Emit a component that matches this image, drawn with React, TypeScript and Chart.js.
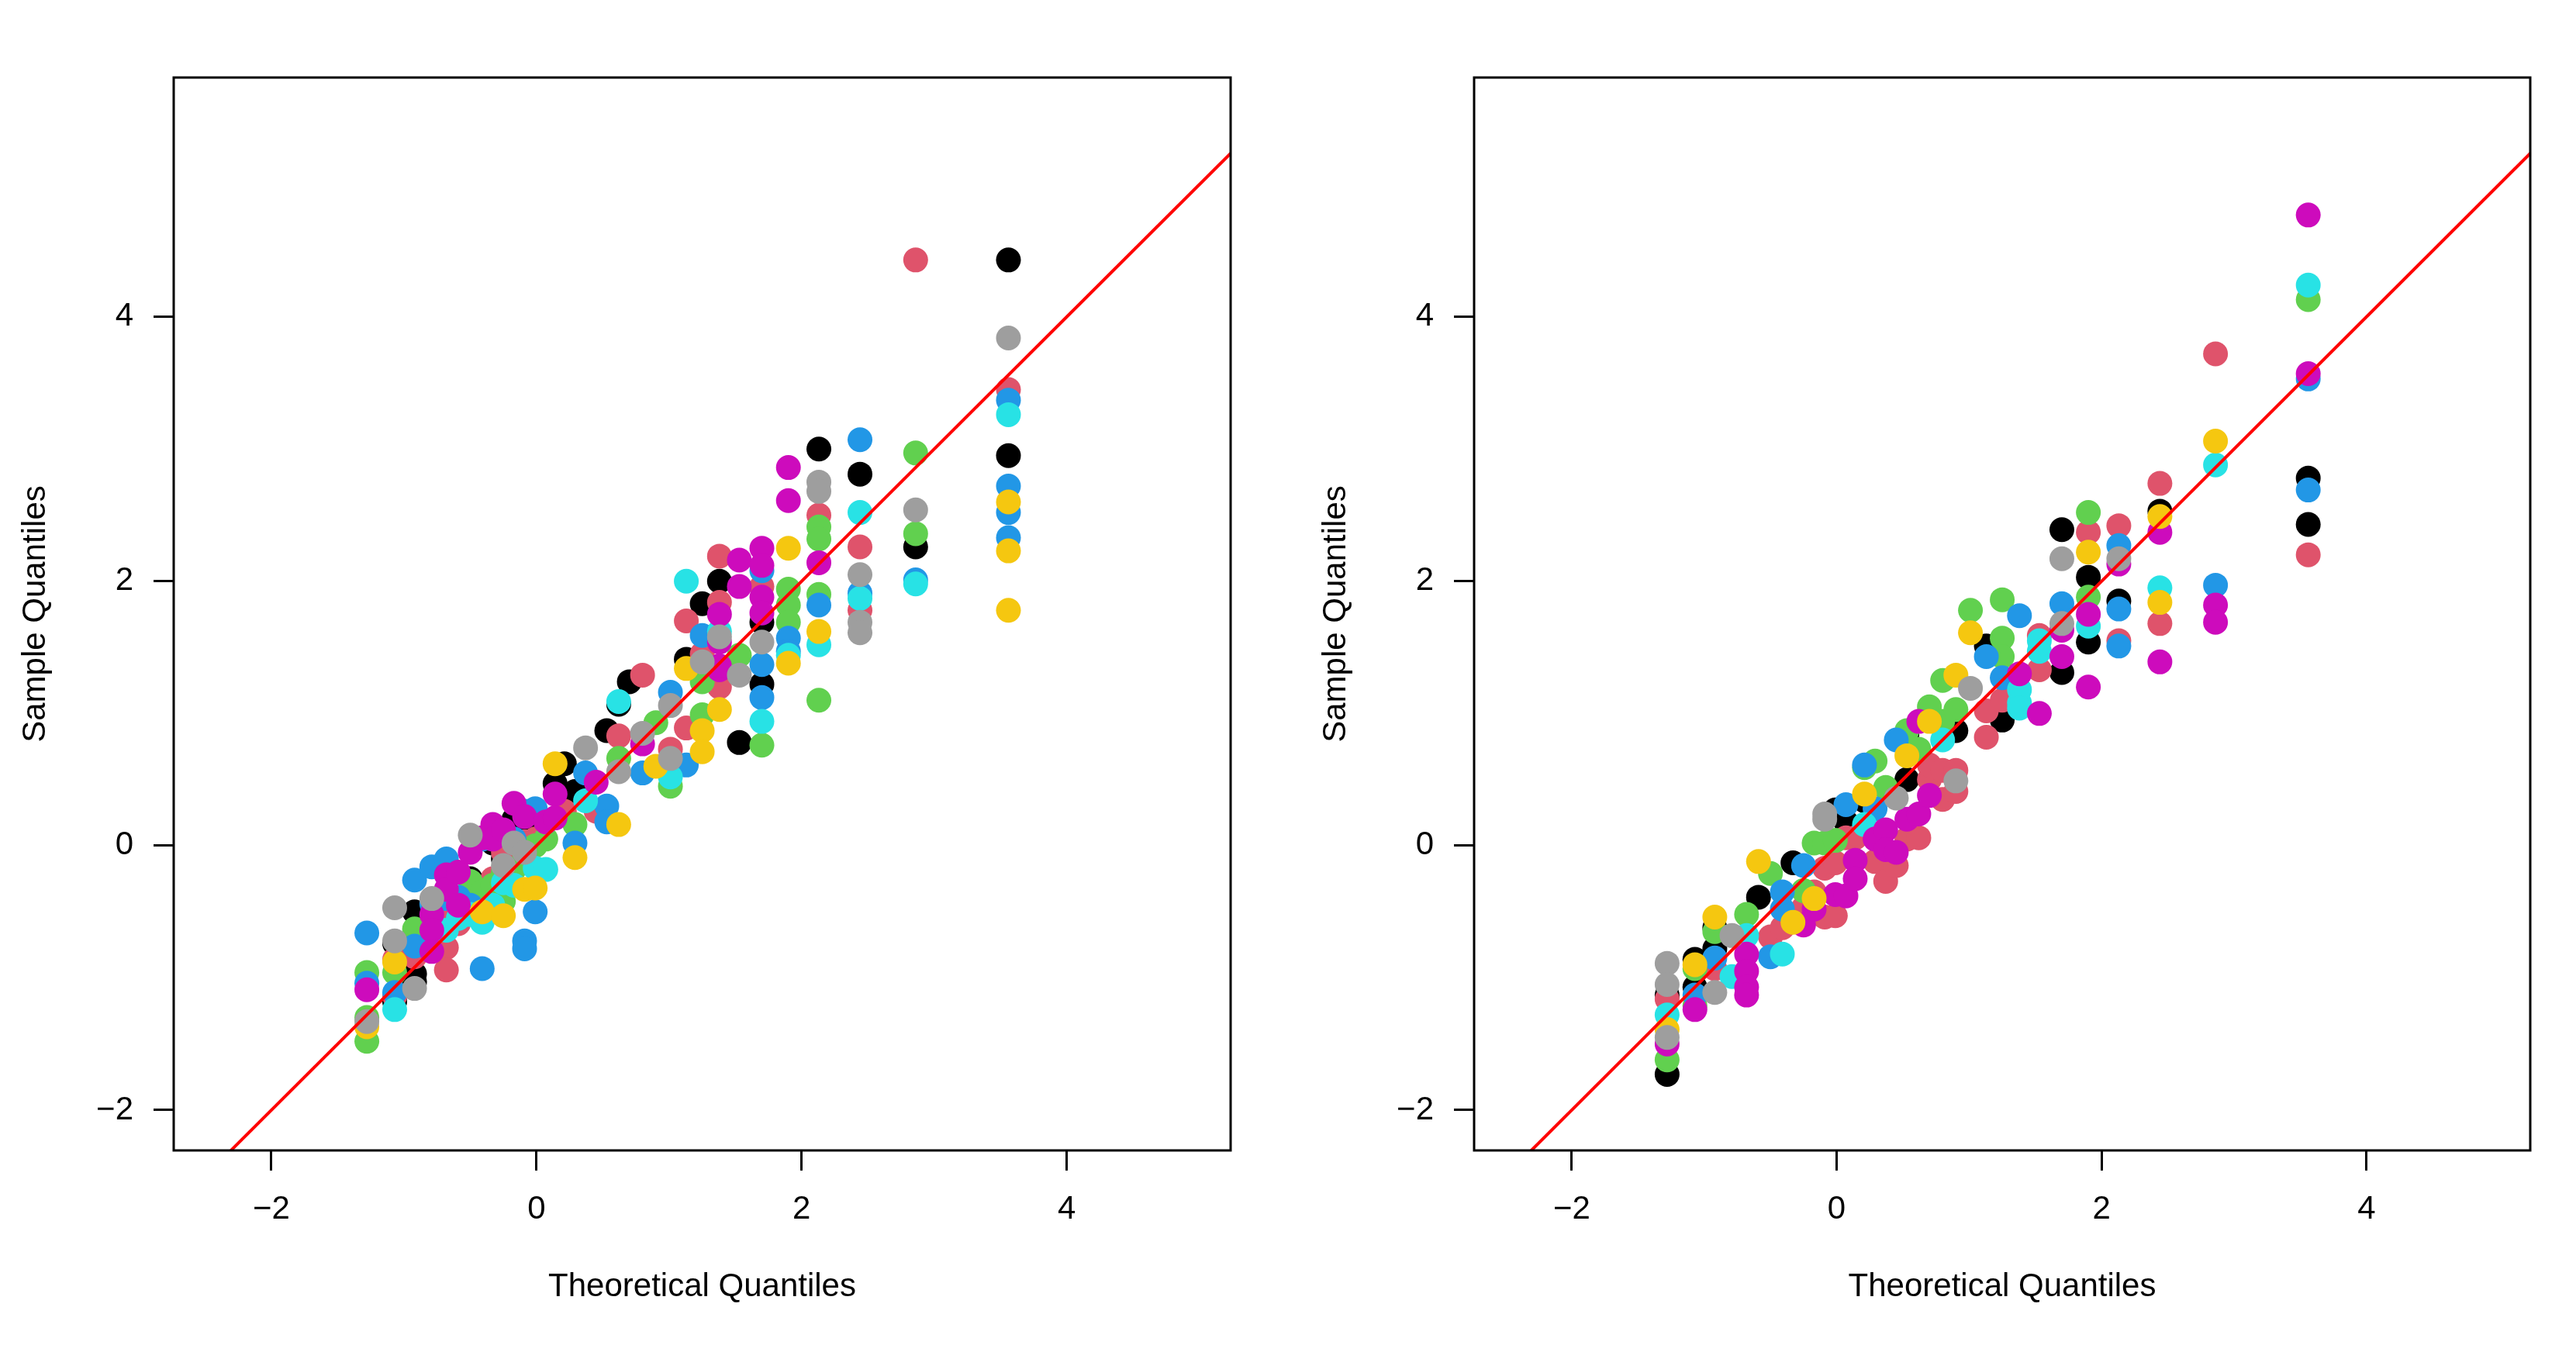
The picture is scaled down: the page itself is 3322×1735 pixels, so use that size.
import React, { useEffect, useRef } from 'react';
import { Chart, registerables } from 'chart.js';

Chart.register(...registerables);

// Theoretical quantile positions (shared columns)
const quantiles = [
  -1.28, -1.07, -0.92, -0.79, -0.68, -0.59, -0.5, -0.41, -0.33, -0.25, -0.17, -0.09, -0.01,
  0.07, 0.14, 0.21, 0.29, 0.37, 0.45, 0.53, 0.62, 0.7, 0.8, 0.9, 1.01, 1.13, 1.25, 1.38,
  1.53, 1.7, 1.9, 2.13, 2.44, 2.86, 3.56,
];

// R palette
const palette = ['#000000', '#DF536B', '#61D04F', '#2297E6', '#28E2E5', '#CD0BBC', '#F5C710', '#9E9E9E'];

// Left panel: [quantile column index, sample quantile]
const lBlack = [[1,-0.74],[1,-1.18],[2,-0.5],[2,-0.97],[2,-1.03],[6,-0.25],[8,0.02],[9,-0.1],[10,0.2],[11,0.12],[12,0.18],[14,0.47],[15,0.62],[16,0.41],[19,0.87],[20,1.07],[21,1.24],[24,0.62],[25,1.41],[26,1.83],[27,2.0],[28,0.78],[29,1.69],[29,1.22],[31,3.0],[32,2.81],[33,2.26],[34,4.43],[34,2.95]];
const lRed = [[1,-0.86],[1,-1.14],[2,-0.84],[3,-0.78],[4,-0.58],[4,-0.77],[4,-0.94],[5,-0.59],[6,-0.36],[7,-0.4],[8,-0.25],[9,-0.05],[10,-0.08],[11,0.03],[12,0.05],[15,0.26],[18,0.26],[20,0.83],[22,1.29],[24,0.73],[25,0.89],[25,1.7],[26,1.45],[27,2.19],[27,1.84],[27,1.2],[29,1.96],[31,2.5],[32,2.26],[32,1.78],[33,4.43],[34,3.45]];
const lGreen = [[0,-0.96],[0,-1.3],[0,-1.48],[1,-0.96],[2,-0.63],[6,-0.27],[7,-0.35],[8,-0.3],[9,-0.2],[9,-0.42],[10,-0.18],[11,-0.07],[12,0.0],[13,0.05],[16,0.16],[20,0.66],[23,0.93],[24,0.45],[26,1.24],[26,0.99],[28,1.44],[29,0.76],[30,1.94],[30,1.82],[30,1.69],[31,2.41],[31,2.32],[31,1.9],[31,1.1],[33,2.97],[33,2.36]];
const lBlue = [[0,-0.66],[0,-1.04],[1,-1.11],[2,-0.26],[2,-0.76],[3,-0.16],[3,-0.44],[4,-0.1],[4,-0.4],[5,-0.39],[6,-0.45],[7,-0.93],[7,0.05],[10,0.05],[11,-0.72],[11,-0.78],[11,0.26],[12,-0.5],[12,0.28],[16,0.02],[17,0.55],[19,0.3],[19,0.18],[22,0.55],[24,1.16],[25,0.61],[26,1.59],[29,2.08],[29,1.37],[29,1.12],[30,1.57],[30,1.47],[31,1.82],[32,3.07],[32,1.91],[33,2.01],[34,3.37],[34,2.72],[34,2.52],[34,2.33]];
const lCyan = [[1,-1.24],[4,-0.64],[5,-0.55],[6,-0.52],[7,-0.58],[8,-0.45],[9,-0.28],[10,-0.3],[12,-0.17],[13,-0.18],[17,0.34],[20,1.09],[24,0.52],[25,2.0],[27,1.62],[29,0.94],[30,1.44],[31,1.52],[32,2.52],[32,1.87],[33,1.98],[34,3.26]];
const lMagenta = [[0,-1.09],[3,-0.52],[3,-0.64],[3,-0.8],[4,-0.22],[4,-0.33],[5,-0.2],[5,-0.45],[6,-0.05],[7,0.06],[8,0.16],[8,0.05],[9,0.12],[10,0.32],[11,0.22],[13,0.18],[14,0.39],[14,0.21],[18,0.48],[22,0.77],[27,1.75],[27,1.54],[27,1.33],[27,1.36],[28,2.16],[28,1.96],[29,2.25],[29,2.12],[29,1.88],[29,1.76],[30,2.86],[30,2.61],[31,2.14]];
const lYellow = [[0,-1.37],[1,-0.88],[7,-0.5],[9,-0.53],[11,-0.33],[12,-0.32],[14,0.62],[16,-0.09],[20,0.16],[23,0.6],[25,1.34],[26,0.87],[26,0.71],[27,1.03],[30,2.25],[30,1.38],[31,1.62],[34,2.6],[34,2.23],[34,1.78]];
const lGray = [[0,-1.33],[1,-0.47],[1,-0.72],[2,-1.08],[3,-0.4],[6,0.08],[9,-0.15],[10,0.02],[11,-0.05],[17,0.74],[20,0.56],[22,0.85],[24,1.06],[24,0.66],[26,1.39],[27,1.58],[28,1.29],[29,1.54],[31,2.75],[31,2.68],[32,2.05],[32,1.69],[32,1.61],[33,2.54],[34,3.84]];

// Right panel
const rBlack = [[0,-1.73],[0,-1.13],[1,-0.86],[1,-1.07],[2,-0.62],[2,-0.78],[5,-0.39],[8,-0.13],[12,0.27],[13,0.18],[15,0.34],[19,0.5],[19,0.84],[23,0.87],[25,1.51],[26,0.95],[29,2.39],[29,1.31],[30,2.03],[30,1.54],[31,1.85],[32,2.53],[34,2.78],[34,2.43]];
const rRed = [[0,-1.16],[2,-0.93],[6,-0.69],[7,-0.62],[9,-0.47],[10,-0.35],[11,-0.17],[11,-0.54],[12,-0.13],[12,-0.53],[13,0.06],[14,0.06],[16,-0.12],[17,-0.27],[18,-0.15],[19,0.05],[20,0.06],[21,0.5],[21,0.61],[22,0.57],[22,0.35],[23,0.57],[23,0.41],[25,1.02],[25,0.82],[26,1.1],[28,1.59],[28,1.33],[30,2.37],[31,2.42],[31,1.55],[32,2.74],[32,1.68],[33,3.72],[34,2.2]];
const rGreen = [[0,-1.62],[1,-0.93],[1,-1.21],[2,-0.65],[4,-0.52],[6,-0.21],[9,-0.34],[10,0.02],[11,0.02],[12,0.04],[15,0.59],[16,0.64],[17,0.44],[19,0.87],[20,0.73],[21,1.05],[22,0.94],[22,1.25],[23,1.03],[24,1.78],[26,1.86],[26,1.57],[26,1.43],[30,2.52],[30,1.88],[34,4.13]];
const rBlue = [[1,-1.13],[2,-0.85],[6,-0.84],[7,-0.48],[7,-0.35],[9,-0.15],[13,0.31],[15,0.61],[16,0.28],[18,0.8],[25,1.43],[26,1.27],[27,1.74],[29,1.83],[31,2.27],[31,1.79],[31,1.51],[33,1.97],[34,3.53],[34,2.69]];
const rCyan = [[0,-1.28],[3,-0.99],[4,-0.68],[7,-0.82],[15,0.16],[22,0.8],[27,1.08],[27,1.18],[27,1.04],[28,1.55],[28,1.47],[30,1.66],[32,1.95],[33,2.88],[34,4.24]];
const rMagenta = [[0,-1.5],[1,-1.24],[4,-0.82],[4,-0.95],[4,-1.07],[4,-1.13],[9,-0.6],[10,-0.48],[12,-0.37],[13,-0.38],[14,-0.11],[14,-0.25],[16,0.05],[17,0.12],[17,-0.03],[18,-0.05],[19,0.2],[20,0.24],[21,0.38],[20,0.94],[27,1.3],[28,1.0],[29,1.63],[29,1.43],[30,1.75],[30,1.2],[31,2.13],[32,2.37],[32,1.39],[33,1.82],[33,1.69],[34,4.77],[34,3.57]];
const rYellow = [[0,-1.39],[1,-0.9],[2,-0.54],[5,-0.12],[8,-0.58],[10,-0.4],[15,0.39],[19,0.68],[21,0.94],[23,1.29],[24,1.61],[30,2.22],[32,2.49],[32,1.84],[33,3.06]];
const rGray = [[0,-0.89],[0,-1.05],[0,-1.45],[2,-1.11],[3,-0.68],[11,0.24],[11,0.2],[18,0.36],[23,0.49],[24,1.19],[29,2.17],[29,1.68],[31,2.17]];

const leftSeries = [lBlack, lRed, lGreen, lBlue, lCyan, lMagenta, lYellow, lGray];
const rightSeries = [rBlack, rRed, rGreen, rBlue, rCyan, rMagenta, rYellow, rGray];

// Reference line y = x
const refLine = [[-3, -3], [6, 6]];

const xTicks = [-2, 0, 2, 4];
const yTicks = [-2, 0, 2, 4];
const xLimits = [-2.737, 5.236];
const yLimits = [-2.305, 5.81];

const FONT = '"Liberation Sans", Arial, Helvetica, sans-serif';
const CW = 1661;
const CH = 1735;

const boxPlugin = {
  id: 'rbox',
  afterDraw(chart: any) {
    const { ctx, chartArea: a } = chart;
    ctx.save();
    ctx.strokeStyle = '#000';
    ctx.lineWidth = 3;
    ctx.strokeRect(a.left, a.top, a.right - a.left, a.bottom - a.top);
    ctx.restore();
  },
};

const fmt = (v: number) => (v < 0 ? '\u2212' + Math.abs(v) : String(v));

function Panel({ series, left, padLeft, padRight }: { series: number[][][]; left: number; padLeft: number; padRight: number }) {
  const ref = useRef<HTMLCanvasElement | null>(null);
  useEffect(() => {
    if (!ref.current) return;
    const datasets: any[] = series.map((pts, i) => ({
      type: 'scatter',
      data: pts.map(([q, y]) => ({ x: quantiles[q], y })),
      backgroundColor: palette[i],
      borderColor: palette[i],
      borderWidth: 0,
      pointRadius: 16,
      pointHoverRadius: 16,
      order: 20 - i,
    }));
    datasets.push({
      type: 'line',
      data: refLine.map(([x, y]) => ({ x, y })),
      borderColor: '#FF0000',
      borderWidth: 4,
      pointRadius: 0,
      fill: false,
      tension: 0,
      order: 0,
    });
    const chart = new Chart(ref.current, {
      type: 'scatter',
      data: { datasets },
      plugins: [boxPlugin],
      options: {
        animation: false,
        responsive: false,
        maintainAspectRatio: false,
        devicePixelRatio: 1,
        events: [],
        layout: { padding: { left: padLeft, right: padRight, top: 100, bottom: 0 } },
        plugins: { legend: { display: false }, tooltip: { enabled: false } },
        scales: {
          x: {
            type: 'linear',
            min: xLimits[0],
            max: xLimits[1],
            afterBuildTicks: (s: any) => { s.ticks = xTicks.map((v) => ({ value: v })); },
            afterFit: (s: any) => { s.height = 251; },
            border: { display: false },
            grid: { display: true, drawOnChartArea: false, drawTicks: true, tickLength: 26, color: '#000', lineWidth: 3 },
            ticks: { color: '#000', padding: 25, maxRotation: 0, autoSkip: false, font: { family: FONT, size: 42, lineHeight: 1.2 }, callback: (v: any) => fmt(Number(v)) },
            title: { display: true, text: 'Theoretical Quantiles', color: '#000', font: { family: FONT, size: 42, lineHeight: 1.2 }, padding: { top: 0, bottom: 49 } },
          },
          y: {
            type: 'linear',
            min: yLimits[0],
            max: yLimits[1],
            afterBuildTicks: (s: any) => { s.ticks = yTicks.map((v) => ({ value: v })); },
            afterFit: (s: any) => { s.width = 224; },
            border: { display: false },
            grid: { display: true, drawOnChartArea: false, drawTicks: true, tickLength: 26, color: '#000', lineWidth: 3 },
            ticks: { color: '#000', padding: 26, autoSkip: false, font: { family: FONT, size: 42, lineHeight: 1.2 }, callback: (v: any) => fmt(Number(v)) },
            title: { display: true, text: 'Sample Quantiles', color: '#000', font: { family: FONT, size: 42, lineHeight: 1.2 }, padding: { top: 21, bottom: 0 } },
          },
        },
      } as any,
    });
    return () => chart.destroy();
  }, []);
  return (
    <div style={{ position: 'absolute', left, top: 0, width: CW, height: CH }}>
      <canvas ref={ref} width={CW} height={CH} style={{ width: CW, height: CH, display: 'block' }} />
    </div>
  );
}

export default function App() {
  return (
    <div style={{ position: 'absolute', left: 0, top: 0, width: 3322, height: 1735, background: '#fff' }}>
      <Panel series={leftSeries} left={0} padLeft={0} padRight={74} />
      <Panel series={rightSeries} left={1661} padLeft={16} padRight={59} />
    </div>
  );
}
